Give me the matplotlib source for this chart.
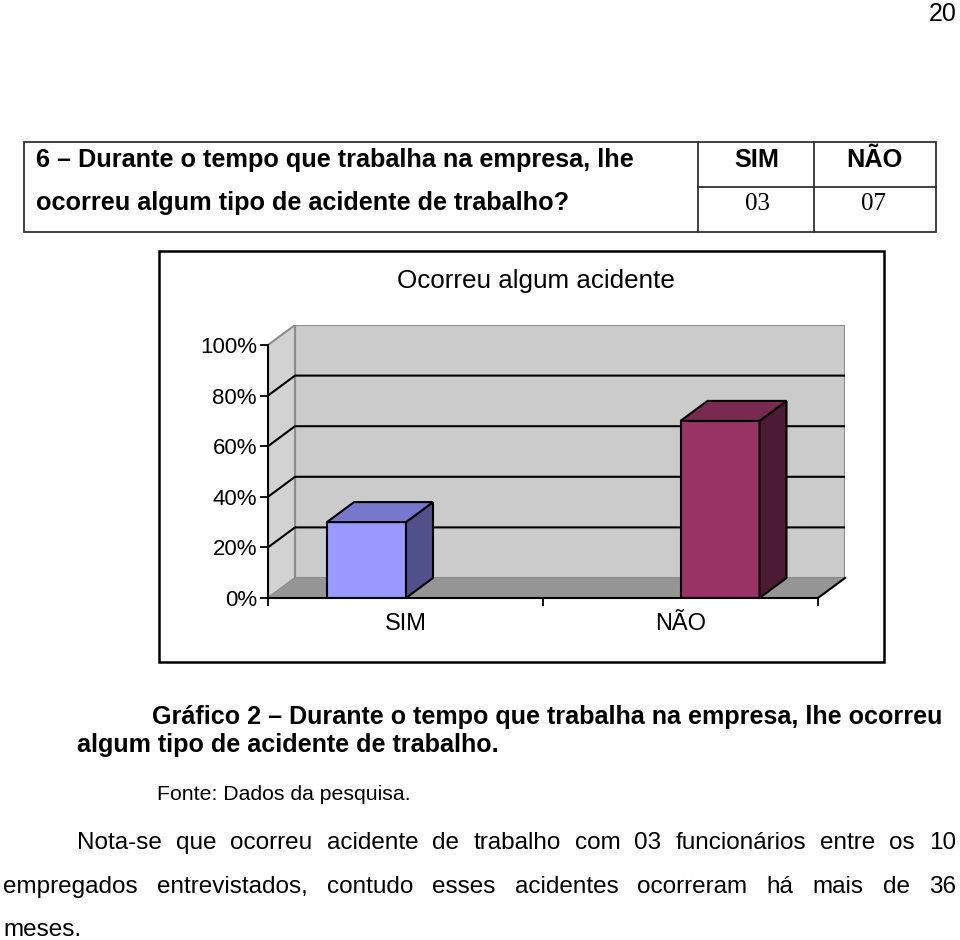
import matplotlib
matplotlib.use("Agg")
import matplotlib.pyplot as plt
from matplotlib.patches import Polygon, Rectangle

plt.rcParams['font.family'] = ['Liberation Sans', 'DejaVu Sans']

# data
categories = ['SIM', 'NÃO']
counts = [3, 7]
y_ticks = [0.0, 0.2, 0.4, 0.6, 0.8, 1.0]
y_tick_labels = ['0%', '20%', '40%', '60%', '80%', '100%']

page_number = '20'
question = ['6 – Durante o tempo que trabalha na empresa, lhe',
            'ocorreu algum tipo de acidente de trabalho?']
chart_title = 'Ocorreu algum acidente'
caption = ['Gráfico 2 – Durante o tempo que trabalha na empresa, lhe ocorreu',
           'algum tipo de acidente de trabalho.']
source = 'Fonte: Dados da pesquisa.'
paragraph = ['Nota-se que ocorreu acidente de trabalho com 03 funcionários entre os 10',
             'empregados entrevistados, contudo esses acidentes ocorreram há mais de 36',
             'meses.']

total = sum(counts)
shares = [c / total for c in counts]

front_colors = ['#9999FF', '#993366']
side_colors = ['#50508A', '#4D1A33']
top_colors = ['#7777CC', '#7A2952']

fig = plt.figure(figsize=(9.6, 9.4), dpi=100)
page = fig.add_axes([0, 0, 1, 1])
page.set_xlim(0, 960)
page.set_ylim(940, 0)
page.axis('off')
renderer = fig.canvas.get_renderer()


def fit(t, width):
    # scale the font so the line spans the width seen on the page
    w = t.get_window_extent(renderer).width
    t.set_fontsize(t.get_fontsize() * width / w)
    return t.get_fontsize()


def justify(line, x0, x1, y, **kw):
    words = [page.text(0, y, w, va='baseline', ha='left', **kw) for w in line.split()]
    widths = [t.get_window_extent(renderer).width for t in words]
    gap = (x1 - x0 - sum(widths)) / (len(words) - 1)
    x = x0
    for t, w in zip(words, widths):
        t.set_x(x)
        x += w + gap


# page number
page.text(957, 21, page_number, ha='right', va='baseline', fontsize=18)

# question table
table_kw = dict(color='#333333', lw=1.3)
page.add_patch(Rectangle((24, 142), 912, 90, fill=False, ec='#333333', lw=1.3))
page.plot([698, 698], [142, 232], **table_kw)
page.plot([814, 814], [142, 232], **table_kw)
page.plot([698, 936], [187, 187], **table_kw)
t = page.text(36, 167, question[0], va='baseline', fontsize=16, fontweight='bold')
qsize = fit(t, 597)
page.text(36, 210, question[1], va='baseline', fontsize=qsize, fontweight='bold')
for cx, name, c in zip([757, 874], categories, counts):
    page.text(cx, 167, name, ha='center', va='baseline', fontsize=qsize, fontweight='bold')
    page.text(cx, 210, f'{c:02d}', ha='center', va='baseline', fontsize=18,
              family='Liberation Serif')

# chart frame and title
page.add_patch(Rectangle((159, 251), 725, 411, fill=False, ec='black', lw=1.8))
t = page.text(535.5, 288, chart_title, ha='center', va='baseline', fontsize=15)
fit(t, 279)

# caption, source and paragraph
t = page.text(152, 724, caption[0], va='baseline', fontsize=17, fontweight='bold')
csize = fit(t, 793)
page.text(77, 752, caption[1], va='baseline', fontsize=csize, fontweight='bold')
t = page.text(157, 800, source, va='baseline', fontsize=13)
fit(t, 253)
justify(paragraph[0], 77, 956, 849, fontsize=17.5)
justify(paragraph[1], 3, 956, 893, fontsize=17.5)
page.text(3, 936, paragraph[2], va='baseline', fontsize=17.5)

# 3D-looking column chart
px_x, px_y = 353.5, 253.0          # pixels per data unit
x0 = (268 - 366.5) / px_x          # front left of the plot
x1 = (818 - 366.5) / px_x          # front right of the plot
dx, dy = 27 / px_x, 20 / px_y      # depth offset
ax = fig.add_axes([268 / 960, (940 - 598) / 940, 577 / 960, 273 / 940])
ax.set_xlim(x0, x0 + 577 / px_x)
ax.set_ylim(0, 273 / px_y)
ax.patch.set_visible(False)

wall_ec = '#8C8C8C'
ax.add_patch(Polygon([(x0 + dx, dy), (x1 + dx, dy), (x1 + dx, 1 + dy), (x0 + dx, 1 + dy)],
                     fc='#CBCBCB', ec=wall_ec, lw=1.5, zorder=1))
ax.add_patch(Polygon([(x0, 0), (x0 + dx, dy), (x0 + dx, 1 + dy), (x0, 1)],
                     fc='#D2D2D2', ec=wall_ec, lw=1.5, zorder=1))
ax.add_patch(Polygon([(x0, 0), (x1, 0), (x1 + dx, dy), (x0 + dx, dy)],
                     fc='#959595', ec='none', zorder=1))
ax.plot([x1, x1 + dx], [0, dy], color='black', lw=1.5, zorder=2, clip_on=False)
for yt in y_ticks[1:-1]:
    ax.plot([x0, x0 + dx, x1 + dx], [yt, yt + dy, yt + dy], color='black', lw=1.5, zorder=2)

pos = range(len(categories))
width = 79 / px_x
ax.bar(pos, shares, width=width, color=front_colors, edgecolor='black', lw=1.5, zorder=5)
for i, v in zip(pos, shares):
    l, r = i - width / 2, i + width / 2
    ax.add_patch(Polygon([(r, 0), (r + dx, dy), (r + dx, v + dy), (r, v)],
                         fc=side_colors[i], ec='black', lw=1.5, zorder=5))
    ax.add_patch(Polygon([(l, v), (r, v), (r + dx, v + dy), (l + dx, v + dy)],
                         fc=top_colors[i], ec='black', lw=1.5, zorder=5))

for side in ['top', 'right']:
    ax.spines[side].set_visible(False)
ax.spines['left'].set_bounds(0, 1)
ax.spines['bottom'].set_bounds(x0, x1)
for side in ['left', 'bottom']:
    ax.spines[side].set_linewidth(1.5)
    ax.spines[side].set_zorder(6)

ax.set_yticks(y_ticks)
ax.set_yticklabels(y_tick_labels, fontsize=16)
ax.tick_params(axis='y', length=6, width=1.3, pad=2)
ax.set_xticks([x0, 0.5, x1])
ax.set_xticklabels([])
ax.tick_params(axis='x', which='major', length=6, width=1.3)
ax.set_xticks([(x0 + 0.5) / 2, (0.5 + x1) / 2], minor=True)
ax.set_xticklabels(categories, minor=True, fontsize=17)
ax.tick_params(axis='x', which='minor', length=0, pad=11)

fig.savefig('out.png', dpi=100)
